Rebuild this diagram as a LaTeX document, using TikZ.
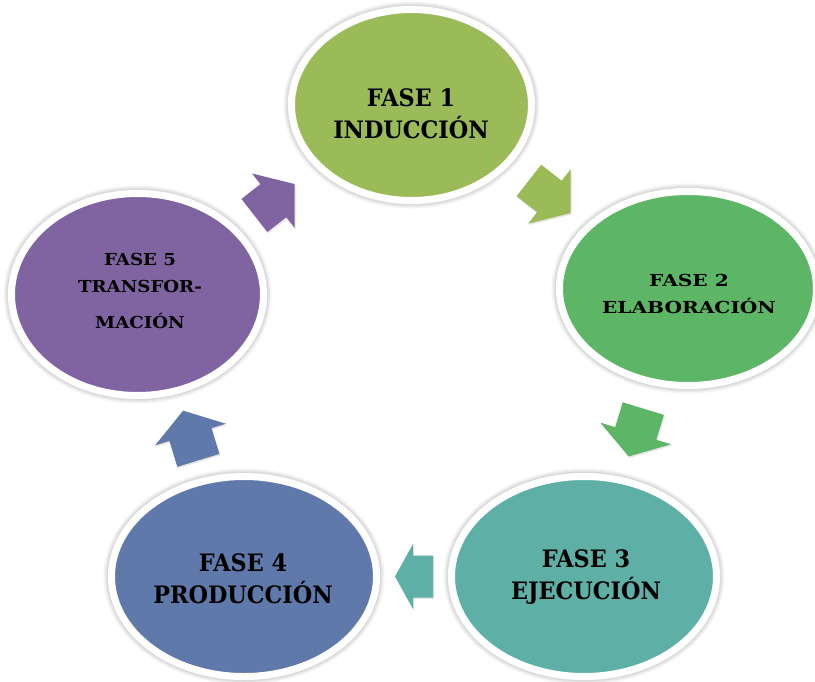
\documentclass[tikz,border=0pt]{standalone}
\usepackage{fontspec}
\newfontfamily\phasefont[FakeStretch=0.93]{DejaVu Serif}
\newfontfamily\phasewide[FakeStretch=1.22]{DejaVu Serif}
\newfontfamily\phasemid[FakeStretch=1.1]{DejaVu Serif}
\usetikzlibrary{shapes.geometric,calc}
\definecolor{cA}{HTML}{9BBB59}
\definecolor{cB}{HTML}{5DB566}
\definecolor{cC}{HTML}{5EAFA6}
\definecolor{cD}{HTML}{5F79AA}
\definecolor{cE}{HTML}{8064A2}
\tikzset{
  phase/.style={ellipse, inner sep=0pt, draw=white, line width=7pt,
    preaction={draw=black, opacity=0.04, line width=16pt},
    preaction={draw=black, opacity=0.05, line width=13pt},
    preaction={draw=black, opacity=0.06, line width=10pt}},
  bigtext/.style={align=center, inner sep=0pt, text=black,
    font={\phasefont\bfseries\fontsize{24}{32}\selectfont}},
  smalltext/.style={align=center, inner sep=0pt, text=black,
    font={\phasewide\bfseries\fontsize{16.5}{27}\selectfont}},
  midtext/.style={align=center, inner sep=0pt, text=black,
    font={\phasemid\bfseries\fontsize{16.5}{27}\selectfont}}
}
% #1 position, #2 angle, #3 length, #4 head length, #5 head width, #6 shaft width, #7 colour
\newcommand\cyclearrow[7]{%
  \fill[black, opacity=0.10, shift={#1}, xshift=1pt, yshift=-1.5pt, rotate=#2]
    ({-#3/2},{#6/2}) -- ({#3/2-#4},{#6/2}) -- ({#3/2-#4},{#5/2}) -- ({#3/2},0)
    -- ({#3/2-#4},{-#5/2}) -- ({#3/2-#4},{-#6/2}) -- ({-#3/2},{-#6/2}) -- cycle;
  \fill[#7, shift={#1}, rotate=#2]
    ({-#3/2},{#6/2}) -- ({#3/2-#4},{#6/2}) -- ({#3/2-#4},{#5/2}) -- ({#3/2},0)
    -- ({#3/2-#4},{-#5/2}) -- ({#3/2-#4},{-#6/2}) -- ({-#3/2},{-#6/2}) -- cycle;}
\begin{document}
\begin{tikzpicture}[x=1pt,y=1pt]
\useasboundingbox (0,0) rectangle (815,-681);
\fill[white] (0,0) rectangle (815,-681);

\node[phase, fill=cA, minimum width=240pt, minimum height=191pt] (e1) at (411.5,-105) {};
\node[phase, fill=cB, minimum width=257pt, minimum height=194pt] (e2) at (688,-288.5) {};
\node[phase, fill=cC, minimum width=265pt, minimum height=200pt] (e3) at (584,-576.5) {};
\node[phase, fill=cD, minimum width=265pt, minimum height=200pt] (e4) at (244,-576.5) {};
\node[phase, fill=cE, minimum width=252pt, minimum height=202pt] (e5) at (137.5,-294.5) {};

\node[bigtext] (t1) at (411,-113.5) {FASE 1\\INDUCCIÓN};
\node[smalltext] (t2) at (689,-293.5) {FASE 2\\ELABORACIÓN};
\node[bigtext] (t3) at (586,-577.5) {FASE 3\\EJECUCIÓN};
\node[bigtext] (t4) at (243,-579) {FASE 4\\PRODUCCIÓN};
\node[midtext] (t5) at (140,-291) {FASE 5\\TRANSFOR-\\[9pt]MACIÓN};

\cyclearrow{($(e1)!0.5!(e2)$)}{-38}{53}{27}{69}{40}{cA}
\cyclearrow{($(e2)!0.5!(e3)$)}{-107}{50}{24}{74}{43}{cB}
\cyclearrow{($(e3)!0.5!(e4)$)}{180}{38}{18}{65}{42}{cC}
\cyclearrow{($(e4)!0.5!(e5)$)}{107}{52}{25}{74}{44}{cD}
\cyclearrow{($(e5)!0.5!(e1)$)}{38}{51}{27}{69}{42}{cE}
\end{tikzpicture}
\end{document}
